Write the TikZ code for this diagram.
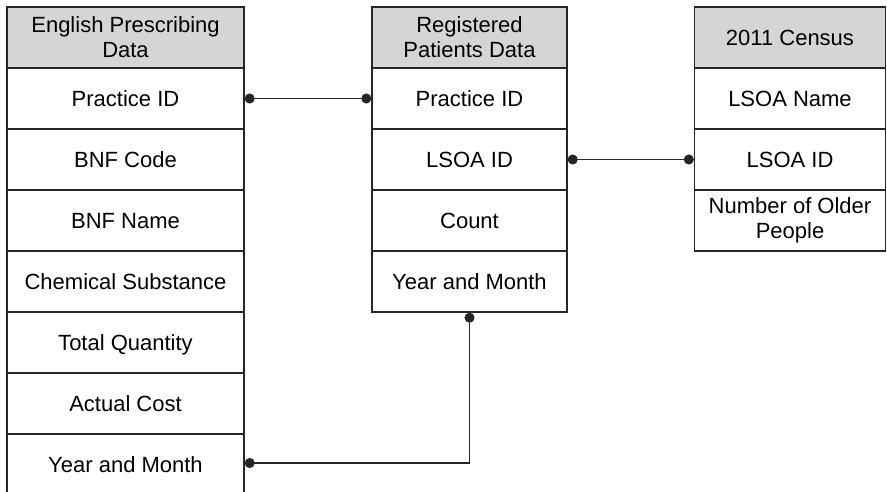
\documentclass[tikz,border=0pt]{standalone}
\usepackage{fontspec}
\setmainfont{Liberation Sans}
\usepackage{tikz}
\usetikzlibrary{arrows.meta}
\usetikzlibrary{calc}

\tikzset{
  cellbox/.style={draw=black!85, line width=1.4pt, fill=white, inner sep=2pt,
    align=center, font=\fontsize{22}{25}\selectfont, minimum height=61pt},
  onerow/.style={text height=15.7pt, text depth=0pt},
  headbox/.style={cellbox, fill=gray!33},
  link/.style={draw=black!85, line width=1.4pt,
    {Circle[length=10pt,width=10pt]}-{Circle[length=10pt,width=10pt]}}
}
\newcommand{\headcell}[5]{\node[headbox, minimum width=#4] (#1) at ( #2 , #3 ) {#5};}
\newcommand{\rowcell}[5]{\node[cellbox, onerow, minimum width=#4] (#1) at ( #2 , #3 ) {#5};}

\begin{document}
\begin{tikzpicture}[x=1pt, y=-1pt]
        \useasboundingbox (0,0) rectangle (887,492);
        \clip (0,0) rectangle (887,492);

        % prescribing table
        \headcell{ep}{125.5}{37.5}{237pt}{English Prescribing\\Data}
        \rowcell{ep-pid}{125.5}{98.5}{237pt}{Practice ID}
        \rowcell{ep-code}{125.5}{159.5}{237pt}{BNF Code}
        \rowcell{ep-name}{125.5}{220.5}{237pt}{BNF Name}
        \rowcell{ep-chem}{125.5}{281.5}{237pt}{Chemical Substance}
        \rowcell{ep-qty}{125.5}{342.5}{237pt}{Total Quantity}
        \rowcell{ep-cost}{125.5}{403.5}{237pt}{Actual Cost}
        \rowcell{ep-ym}{125.5}{464.5}{237pt}{Year and Month}

        % patients table
        \headcell{rp}{469.5}{37.5}{195pt}{Registered\\Patients Data}
        \rowcell{rp-pid}{469.5}{98.5}{195pt}{Practice ID}
        \rowcell{rp-lsoa}{469.5}{159.5}{195pt}{LSOA ID}
        \rowcell{rp-count}{469.5}{220.5}{195pt}{Count}
        \rowcell{rp-ym}{469.5}{281.5}{195pt}{Year and Month}

        % census table
        \node[headbox, onerow, minimum width=191pt] (cen) at (790,37.5) {2011 Census};
        \rowcell{cen-name}{790}{98.5}{191pt}{LSOA Name}
        \rowcell{cen-lsoa}{790}{159.5}{191pt}{LSOA ID}
        \node[cellbox, minimum width=191pt] (cen-old) at (790,220.5) {Number of Older\\People};

        % links
        \draw[link] (ep-pid.east) -- (rp-pid.west);
        \draw[link] (rp-lsoa.east) -- (cen-lsoa.west);
        \draw[link] (rp-ym.south) |- ($(ep-ym.east)+(0,-1.5)$);

    \end{tikzpicture}
\end{document}
